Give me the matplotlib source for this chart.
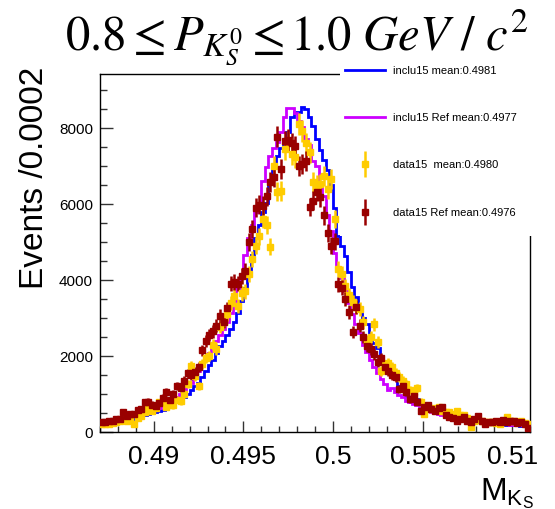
import numpy as np
import matplotlib
matplotlib.use('Agg')
import matplotlib.pyplot as plt
from matplotlib.ticker import MultipleLocator, FuncFormatter

plt.rcParams['font.family'] = ['Liberation Sans', 'DejaVu Sans']
plt.rcParams['mathtext.fontset'] = 'stix'

# ---------------- data ----------------
x_min, x_max, n_bins = 0.487, 0.511, 120

inclu15 = [185, 200, 215, 225, 235, 250, 262, 290, 320, 345,
           380, 410, 440, 465, 490, 520, 550, 590, 630, 675,
           740, 800, 860, 920, 1000, 1100, 1200, 1300, 1450, 1600,
           1750, 1900, 2080, 2250, 2400, 2540, 2720, 2900, 3120, 3450,
           3800, 4150, 4650, 5100, 5450, 5780, 6030, 6600, 6980, 7250,
           7460, 7620, 7900, 8300, 8420, 8430, 8550, 8500, 8300, 8050,
           7700, 7420, 7150, 6900, 6500, 5900, 5150, 4900, 4620, 4200,
           3820, 3550, 3250, 3000, 2840, 2550, 2350, 2200, 1950, 1750,
           1600, 1480, 1390, 1220, 1100, 960, 900, 870, 860, 750,
           680, 620, 580, 560, 540, 520, 480, 450, 430, 410,
           390, 370, 340, 310, 290, 270, 255, 245, 235, 225,
           215, 205, 200, 195, 185, 180, 175, 170, 165, 160]

inclu15_ref = [215, 225, 235, 250, 262, 290, 320, 345, 380, 410,
               440, 465, 490, 520, 550, 590, 630, 675, 740, 800,
               860, 920, 1000, 1100, 1200, 1300, 1450, 1600, 1750, 1900,
               2080, 2250, 2400, 2540, 2720, 2900, 3120, 3450, 3800, 4150,
               4650, 5100, 5450, 5780, 6030, 6600, 6980, 7250, 7460, 7620,
               7900, 8290, 8520, 8520, 8390, 8190, 8020, 7700, 7550, 7130,
               7000, 6470, 6200, 5700, 5300, 4700, 4350, 4050, 3700, 3400,
               3100, 2850, 2600, 2300, 2100, 1900, 1700, 1560, 1390, 1250,
               1100, 1150, 1050, 980, 920, 820, 780, 740, 700, 620,
               560, 540, 520, 500, 470, 440, 420, 410, 400, 380,
               360, 340, 300, 280, 260, 250, 240, 230, 225, 220,
               215, 210, 205, 200, 195, 190, 185, 180, 175, 170]

data15 = [210, 200, 220, 240, 250, 300, 340, 300, 330, 210,
          380, 420, 520, 680, 560, 640, 790, 790, 660, 720,
          700, 850, 810, 1000, 1260, 1740, 1470, 1210, 1790, 1950,
          2000, 2300, 2180, 2760, 2900, 3100, 3400, 3580, 3310, 3650,
          3700, 4160, 4550, 4900, 5150, 5600, 5450, 4870, 7000, 6320,
          6340, 7440, 7650, 7310, 7230, 8100, 7920, 7600, 7360, 6580,
          6500, 6520, 6730, 6390, 6650, 5600, 4300, 4150, 3840, 3600,
          3420, 3300, 3240, 2890, 2390, 2500, 2840, 2370, 1600, 1750,
          1820, 1700, 1550, 1450, 1350, 1250, 1100, 1050, 1150, 800,
          470, 660, 600, 620, 660, 560, 520, 530, 480, 550,
          450, 440, 380, 130, 300, 320, 290, 270, 250, 260,
          240, 220, 280, 390, 300, 280, 260, 290, 240, 200]

data15_ref = [260, 250, 280, 290, 330, 350, 520, 420, 480, 470,
              590, 610, 780, 800, 720, 680, 760, 900, 1050, 830,
              1000, 1210, 1150, 1350, 1540, 1500, 1580, 1700, 2150, 2400,
              2560, 2650, 2800, 3050, 2900, 3250, 3900, 3950, 3900, 4100,
              4230, 5000, 5340, 5900, 5980, 5950, 6200, 6580, 6700, 7770,
              6920, 7650, 7680, 7600, 7520, 7000, 7050, 7130, 5920, 6080,
              6320, 6180, 5700, 5230, 4900, 5020, 3890, 3800, 3500, 3160,
              2630, 3280, 2800, 2500, 2260, 2180, 2050, 1840, 1950, 1700,
              1600, 1500, 1450, 1130, 1200, 1050, 870, 940, 800, 550,
              650, 700, 600, 540, 640, 660, 440, 400, 360, 290,
              340, 390, 300, 260, 330, 410, 280, 210, 250, 260,
              290, 270, 315, 260, 280, 290, 240, 260, 200, 100]

labels = ['inclu15 mean:0.4981', 'inclu15 Ref mean:0.4977',
          'data15  mean:0.4980', 'data15 Ref mean:0.4976']
colors = ['#0000ff', '#cc00ff', '#ffcc00', '#990000']

# ---------------- figure ----------------
W, H = 555, 510
fig = plt.figure(figsize=(W / 100, H / 100), dpi=100)
ax = fig.add_axes([100 / W, 1 - 433 / H, 430 / W, (433 - 75) / H])

edges = np.linspace(x_min, x_max, n_bins + 1)
centers = 0.5 * (edges[1:] + edges[:-1])
half = 0.5 * (edges[1] - edges[0])

ax.stairs(inclu15, edges, color=colors[0], lw=2.0, baseline=None, zorder=2)
ax.stairs(inclu15_ref, edges, color=colors[1], lw=2.0, baseline=None, zorder=2)
for vals, c in [(data15, colors[2]), (data15_ref, colors[3])]:
    v = np.asarray(vals, float)
    ax.errorbar(centers, v, yerr=3.2 * np.sqrt(v), xerr=half, fmt='s', ms=4,
                color=c, mec=c, elinewidth=1.8, capsize=0, zorder=3)

ax.set_xlim(x_min, x_max)
ax.set_ylim(0, 9420)
ax.xaxis.set_major_locator(MultipleLocator(0.005))
ax.xaxis.set_minor_locator(MultipleLocator(0.001))
ax.yaxis.set_major_locator(MultipleLocator(2000))
ax.yaxis.set_minor_locator(MultipleLocator(500))
ax.xaxis.set_major_formatter(FuncFormatter(lambda v, p: '%g' % round(v, 4)))
ax.tick_params(which='both', direction='in', top=False, right=False, color='#333333')
ax.tick_params(axis='x', which='major', length=8, width=1, labelsize=19, pad=9)
ax.tick_params(axis='x', which='minor', length=4, width=1)
ax.tick_params(axis='y', which='major', length=9, width=1, labelsize=11, pad=5)
ax.tick_params(axis='y', which='minor', length=5, width=1)
for s in ax.spines.values():
    s.set_linewidth(1.0)

fig.text(35 / W, 1 - 178 / H, 'Events /0.0002', rotation=90, fontsize=24,
         ha='center', va='center')
fig.text(534 / W, 1 - 500 / H, r'$\mathregular{M_{K_S}}$', fontsize=23,
         ha='right', va='baseline')
# title, in two parts so the subscripted part does not stretch over the legend
fig.text(65 / W, 1 - 50 / H, r'$0.8\leq P_{K_S^0}\leq$',
         fontsize=35, ha='left', va='baseline')
fig.text(290 / W, 1 - 50 / H, r'$1.0\ GeV\ /\ c^2$',
         fontsize=35, ha='left', va='baseline')

# ---------------- legend (white box covering the frame corner) ----------------
lax = fig.add_axes([340 / W, 1 - 237 / H, 215 / W, (237 - 60) / H])
lax.set_facecolor('white')
for s in lax.spines.values():
    s.set_visible(False)
lax.set_xticks([])
lax.set_yticks([])
lax.set_xlim(340, 555)
lax.set_ylim(237, 60)
ys = [71, 118, 165, 213]
for i in range(2):
    lax.plot([345, 385], [ys[i], ys[i]], color=colors[i], lw=2.0)
for i in range(2, 4):
    lax.errorbar([365], [ys[i]], yerr=[13], fmt='s', ms=4, color=colors[i],
                 mec=colors[i], elinewidth=1.8, capsize=0)
for i in range(4):
    lax.text(393, ys[i], labels[i], fontsize=8, ha='left', va='center')

fig.savefig('out.png', dpi=100)
